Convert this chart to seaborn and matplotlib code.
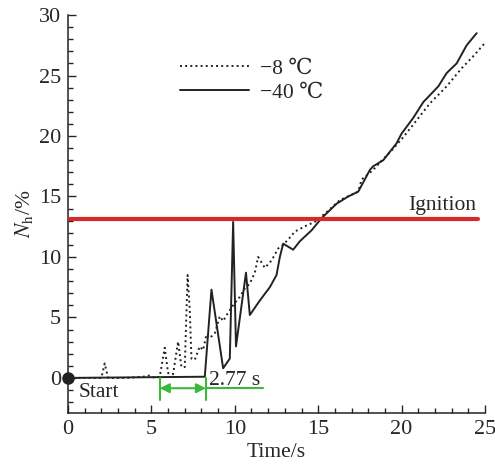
import matplotlib
matplotlib.use("Agg")
import matplotlib.pyplot as plt
import seaborn as sns
import pandas as pd

# Engine speed N_h during start-up at two ambient temperatures
t_minus40 = [0, 8.2, 8.6, 9.3, 9.7, 9.9, 10.07, 10.67, 10.9, 11.5, 12.1, 12.5, 12.7,
             12.9, 13.5, 13.9, 14.6, 15.2, 16.1, 16.8, 17.4, 18.1, 18.3, 18.9, 19.7,
             20.0, 20.7, 21.3, 22.2, 22.7, 23.3, 23.9, 24.5]
n_minus40 = [0, 0.1, 7.3, 0.8, 1.6, 12.9, 2.6, 8.7, 5.2, 6.4, 7.5, 8.5, 10.0,
             11.1, 10.6, 11.3, 12.2, 13.2, 14.4, 15.0, 15.4, 17.2, 17.5, 18.0, 19.4,
             20.2, 21.5, 22.8, 24.1, 25.2, 26.0, 27.5, 28.5]

t_minus8 = [0, 2.0, 2.2, 2.4, 3.5, 4.0, 4.5, 4.9, 5.2, 5.5, 5.8, 6.0, 6.3, 6.6, 6.8,
            7.0, 7.17, 7.3, 7.4, 7.6, 7.9, 8.1, 8.3, 8.5, 8.8, 9.1, 9.3, 9.6, 10.0,
            10.3, 10.6, 10.9, 11.2, 11.4, 11.8, 12.2, 12.6, 12.9, 13.3, 13.6, 14.3,
            14.8, 15.5, 16.3, 17.4, 17.6, 18.3, 18.7, 19.4, 20.1, 20.9, 21.7, 22.7,
            23.6, 24.3, 25.0]
n_minus8 = [0, 0, 1.2, 0, 0, 0.05, 0.1, 0.2, 0, 0.1, 2.5, 0.4, 0.3, 3.0, 0.9,
            0.9, 8.5, 5.6, 1.6, 1.5, 2.6, 2.3, 3.6, 3.3, 3.7, 5.1, 4.7, 5.4, 6.2,
            6.7, 7.4, 7.8, 8.7, 10.0, 9.1, 9.7, 10.7, 11.0, 11.6, 12.1, 12.6,
            12.9, 13.7, 14.7, 15.4, 16.4, 17.2, 17.8, 18.8, 19.9, 21.3, 22.7, 24.1,
            25.6, 26.6, 27.7]

series_labels = ["\u22128 \u2103", "\u221240 \u2103"]
ignition_level = 13.1
start_delay_begin = 5.5
start_delay = 2.77

df8 = pd.DataFrame({"t": t_minus8, "n": n_minus8})
df40 = pd.DataFrame({"t": t_minus40, "n": n_minus40})

sns.set_style("ticks")
plt.rcParams["font.family"] = ["Liberation Serif", "DejaVu Serif"]
plt.rcParams["mathtext.fontset"] = "stix"

FS = 15.5

fig = plt.figure(figsize=(4.95, 4.65), dpi=100)
ax = fig.add_axes([0.1374, 0.1118, 0.8424, 0.8559])

sns.lineplot(data=df8, x="t", y="n", ax=ax, color="#222222", lw=1.4,
             linestyle=":", label=series_labels[0], sort=False)
sns.lineplot(data=df40, x="t", y="n", ax=ax, color="#222222", lw=1.4,
             linestyle="-", label=series_labels[1], sort=False)

# ignition threshold
ax.plot([0, 24.6], [ignition_level, ignition_level], color="#d42a2a", lw=3, zorder=3)
ax.text(24.5, ignition_level + 0.8, "Ignition", ha="right", va="baseline", fontsize=FS)

# start marker
ax.plot([0], [0], "o", color="#222222", ms=8, clip_on=False, zorder=5)
ax.text(0.65, -1.6, "Start", ha="left", va="baseline", fontsize=FS)

# start delay bracket
green = "#3cb83c"
t_end = start_delay_begin + start_delay
for xv in (start_delay_begin, t_end):
    ax.plot([xv, xv], [0, -1.8], color=green, lw=1.5)
ax.annotate("", xy=(start_delay_begin, -0.85), xytext=(t_end, -0.85),
            arrowprops=dict(arrowstyle="<|-|>", color=green, lw=1.5,
                            shrinkA=0, shrinkB=0, mutation_scale=14))
ax.plot([t_end, 11.7], [-0.85, -0.85], color=green, lw=1.5)
ax.text(t_end + 0.2, -0.55, f"{start_delay} s", ha="left", va="baseline", fontsize=FS)

ax.set_xlim(0, 25)
ax.set_ylim(-2.9, 30)
ax.set_xticks([0, 5, 10, 15, 20, 25])
ax.set_yticks([0, 5, 10, 15, 20, 25, 30])
ax.set_xticks(range(0, 26), minor=True)
ax.set_yticks(range(-2, 31), minor=True)
ax.tick_params(which="major", direction="in", length=6, width=1, labelsize=16, pad=5)
ax.tick_params(which="minor", direction="in", length=3.5, width=1)
sns.despine(ax=ax)
for s in ("left", "bottom"):
    ax.spines[s].set_linewidth(1.1)
    ax.spines[s].set_color("#222222")

ax.set_xlabel("Time/s", fontsize=FS, labelpad=3)
ax.set_ylabel(r"$N_{\mathrm{h}}$/%", fontsize=FS, labelpad=3)

leg = ax.legend(loc="upper left", bbox_to_anchor=(0.269, 0.89), frameon=False,
                fontsize=FS, handlelength=3.2, handletextpad=0.5,
                labelspacing=0.18, borderpad=0, borderaxespad=0)

fig.savefig("out.png", dpi=100, facecolor="white")
